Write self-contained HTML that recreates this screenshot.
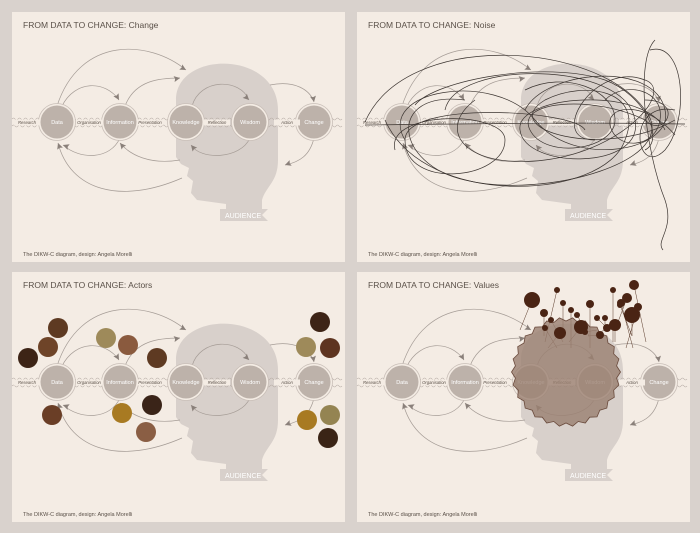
<!DOCTYPE html>
<html><head><meta charset="utf-8"><style>
html,body{margin:0;padding:0;background:#d9d2cd;width:700px;height:533px;overflow:hidden;}
svg{display:block;font-family:"Liberation Sans",sans-serif;}
</style></head><body>
<svg id="s" width="700" height="533" viewBox="0 0 700 533" xmlns="http://www.w3.org/2000/svg">
<rect width="700" height="533" fill="#d9d2cd"/>
</svg>
<script>
const stages = ["Data","Information","Knowledge","Wisdom","Change"];
const processes = ["Research","Organisation","Presentation","Reflection","Action"];
const panelTitles = ["FROM DATA TO CHANGE: Change","FROM DATA TO CHANGE: Noise","FROM DATA TO CHANGE: Actors","FROM DATA TO CHANGE: Values"];
const footer = "The DIKW-C diagram, design: Angela Morelli";

const NS="http://www.w3.org/2000/svg";
const svg=document.getElementById('s');
function el(tag,attrs,parent){const e=document.createElementNS(NS,tag);for(const k in attrs)e.setAttribute(k,attrs[k]);(parent||svg).appendChild(e);return e;}

const stageX=[57,120,186,250,314], stageY=122;
const procX=[27,89,150,217,287];
const offsets=[[0,0],[345,0],[0,260],[345,260]];

function wave(y){let d="M12,"+y;for(let x=12;x<342;x+=6){d+=" q1.5,-2 3,0 q1.5,2 3,0";}return d;}
function arrow(g,x,y,ang){el('path',{d:"M0,0 L-6,-3 L-5,0 L-6,3 Z",fill:"#8a807a",transform:`translate(${x},${y}) rotate(${ang})`},g);}

function drawPanel(i){
  const [dx,dy]=offsets[i];
  const g=el('g',{transform:`translate(${dx},${dy})`});
  
  
  el('rect',{x:12,y:12,width:333,height:250,fill:"#f4ece4"},g);
  const head=el('path',{d:"M176,157 L176,100 C176,50 278,50 278,110 L278,160 C278,182 266,186 262,200 L262,216 L226,216 L226,204 L197,200 L191,193 L193,181 L187,176 L189,168 L181,164 Z",fill:"#d8d0cb"},g);
  
  
  const rib=el('path',{d:"M220,209 L268,209 L262,215 L268,221 L220,221 Z",fill:"#d8d0cb"},g);
  
  
  const at=el('text',{x:225,y:218,"font-size":7,fill:"#fff"},g);at.textContent="AUDIENCE";
  
  
  el('path',{d:wave(119),fill:"none",stroke:"#b5aba4","stroke-width":0.6},g);
  el('path',{d:wave(126),fill:"none",stroke:"#b5aba4","stroke-width":0.6},g);
  const arcs=["M57,106 C80,35 150,40 186,70","M62,106 C75,80 105,80 119,100","M125,106 C135,80 160,78 180,78",
    "M192,106 C200,78 240,78 249,100","M270,85 C295,80 310,90 314,102","M314,138 C310,155 300,162 285,165",
    "M250,138 C240,160 200,160 191,145","M120,138 C110,160 80,160 63,145","M180,160 C150,165 130,155 120,143",
    "M182,178 C120,205 70,190 58,143"];
  const arr=[[186,70,30],[119,100,60],[180,78,-10],[249,100,45],[314,102,80],[285,165,160],[191,145,230],[63,145,200],[120,143,230],[58,143,250]];
  arcs.forEach((d,k)=>{const p=el('path',{d:d,fill:"none",stroke:"#a59c96","stroke-width":0.7},g);
    
    
    arrow(g,arr[k][0],arr[k][1],arr[k][2]);});
  stages.forEach((s,k)=>{
    el('circle',{cx:stageX[k],cy:stageY,r:18.5,fill:"#f4ece4",stroke:"#c9bfb8","stroke-width":0.8},g);
    const c=el('circle',{cx:stageX[k],cy:stageY,r:16.5,fill:"#bdb2aa"},g);
    
    
    const t=el('text',{x:stageX[k],y:stageY+2,"font-size":5.5,fill:"#fff","text-anchor":"middle"},g);t.textContent=s;
    
    
  });
  processes.forEach((p,k)=>{
    el('rect',{x:procX[k]-13,y:119.5,width:26,height:6,fill:"#f4ece4"},g);
    const t=el('text',{x:procX[k],y:124,"font-size":4.2,"font-style":"italic",fill:"#5a5048","text-anchor":"middle"},g);t.textContent=p;
    
    
  });
  const tt=el('text',{x:23,y:28,"font-size":8.5,fill:"#5a5048"},g);tt.textContent=panelTitles[i];
  
  
  const ft=el('text',{x:23,y:256,"font-size":5.5,fill:"#5a5048"},g);ft.textContent=footer;
  
  
  return g;
}
const panels=[0,1,2,3].map(drawPanel);

const noise=["M20,122 C60,30 250,40 300,110 C340,160 200,200 120,180 C50,165 40,90 120,100",
"M60,140 C30,90 150,70 190,120 C230,170 330,150 320,110 C310,60 200,70 180,110",
"M40,120 C80,210 260,200 280,140 C300,90 240,80 200,100 C150,130 260,160 330,120",
"M100,110 C110,60 280,60 290,120 C300,170 180,170 175,130 C170,95 300,85 320,130",
"M130,100 C90,130 120,170 200,160 C280,150 330,90 300,80 C250,60 200,140 250,140",
"M310,40 C290,60 300,150 320,200 C330,230 310,240 318,250 M305,50 C340,40 345,120 320,150 C290,180 280,100 330,110",
"M50,150 C40,110 160,110 160,140 C160,180 60,190 60,140 C60,100 230,110 240,130",
"M180,90 C220,70 270,90 270,120 C270,150 200,160 185,130 C170,100 250,95 300,120 C320,140 340,100 300,100",
"M20,125 C120,124 230,122 340,124","M70,105 C90,80 200,60 260,80 C300,95 320,140 300,150",
"M260,100 C280,80 320,90 315,120 C310,150 270,150 265,125 C262,105 300,100 330,135"];
noise.forEach(d=>{const p=el('path',{d:d,fill:"none",stroke:"#3b3430","stroke-width":0.7},panels[1]);
  
  });

const actorX=[58,48,28,106,128,157,52,122,152,146,320,306,330,307,330,328];
const actorY=[58,77,88,68,75,88,145,143,135,162,52,77,78,150,145,168];
const actorColor=["#5e3a22","#6e4428","#3d2416","#9e8a5a","#8a5a3e","#5e3a22","#6a3e26","#a87a22","#3a2418","#8a5e44","#3d2416","#9e8a5a","#5e3420","#a87a22","#948452","#3a2416"];
actorX.forEach((x,k)=>{const c=el('circle',{cx:x,cy:actorY[k]+10,r:10,fill:actorColor[k]},panels[2]);
  
  });

const bubX=[187,199,206,215,218,232,236,245,252,262,268,276,282,287,289,293,260,275,212,226,240,255,270,200];
const bubY=[30,43,50,63,33,45,57,34,48,58,20,33,28,45,15,37,48,35,20,40,62,65,55,58];
const bubR=[8,4,3,6,3,3,7,4,3,4,3,4,5,8,5,4,3,3,3,3,3,4,6,3];
bubX.forEach((x,k)=>{
  const l=el('line',{x1:x,y1:bubY[k]+10,x2:x+(k%3-1)*12,y2:70+(k%4)*6,stroke:"#5a3a2a","stroke-width":0.5},panels[3]);
  
  
});
(function(){
  const g=panels[3]; const cx=221, cy=112, R=53, n=26; let d="";
  for(let k=0;k<n*2;k++){const a=k*Math.PI/n; const r=k%2?R-2:R+1.5; d+=(k?"L":"M")+(cx+r*Math.cos(a)).toFixed(1)+","+(cy+r*Math.sin(a)).toFixed(1);}
  const cog=el('path',{d:d+"Z",fill:"#9a7f70","fill-opacity":0.8,stroke:"#6a4a3c","stroke-width":0.8},g);
  
  
})();
bubX.forEach((x,k)=>{
  const c=el('circle',{cx:x,cy:bubY[k]+10,r:bubR[k],fill:"#4a2414"},panels[3]);
  
  
});
</script>
</body></html>
